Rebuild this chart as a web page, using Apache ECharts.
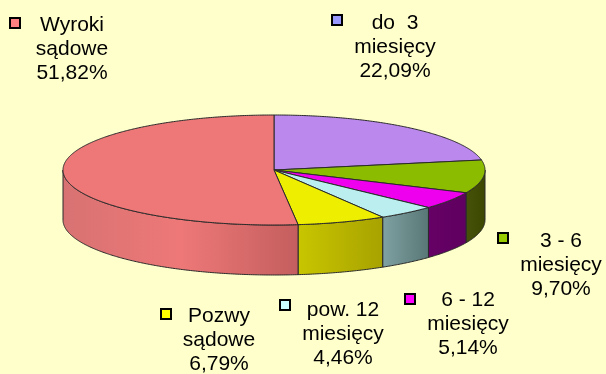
<!DOCTYPE html>
<html>
<head>
<meta charset="utf-8">
<script src="https://cdn.jsdelivr.net/npm/echarts@6/dist/echarts.min.js"></script>
<style>
  html, body { margin: 0; padding: 0; background: #FFFFCC; }
  #chart { width: 606px; height: 374px; }
</style>
</head>
<body>
<div id="chart"></div>
<script>
// Slices, in clockwise order starting from 12 o'clock
const categories = ['do  3\nmiesięcy', '3 - 6\nmiesięcy', '6 - 12\nmiesięcy', 'pow. 12\nmiesięcy', 'Pozwy\nsądowe', 'Wyroki\nsądowe'];
const shares = [22.09, 9.70, 5.14, 4.46, 6.79, 51.82];

// Styles
const topColors = ['#BB88EE', '#8CBC00', '#EE00EE', '#BBEEEE', '#EEEE00', '#EE7777'];
const wallStops = [
  ['#7A55A8', '#5E3F86'],
  ['#46520A', '#3C4600'],
  ['#660066', '#600060'],
  ['#80A2A2', '#587676'],
  ['#C8C600', '#A8A200'],
  ['#D87272', '#EE7878', '#C45E5E']
];
const keyColors = ['#9999FF', '#99CC00', '#FF00FF', '#CCFFFF', '#FFFF00', '#FF8080'];

// Layout of the elliptical pie and of the labels (x = text centre, y = top, mx/my = key square)
const pie = { cx: 274, cy: 170, rx: 211, ry: 55, depth: 50 };
const labelLayout = [
  { x: 395, y: 11, mx: 331, my: 14 },
  { x: 561, y: 229, mx: 497, my: 232 },
  { x: 468, y: 288, mx: 404, my: 293 },
  { x: 343, y: 298, mx: 279, my: 299 },
  { x: 219, y: 304, mx: 160, my: 308 },
  { x: 72, y: 13, mx: 9, my: 17 }
];

const total = shares.reduce((a, b) => a + b, 0);
let running = 0;
const seriesData = shares.map(v => { const item = [v, running, total]; running += v; return item; });

function pt(theta, dy) {
  return [pie.cx + pie.rx * Math.sin(theta), pie.cy - pie.ry * Math.cos(theta) + dy];
}
function arc(a0, a1, dy) {
  const pts = [];
  const n = Math.max(2, Math.ceil((a1 - a0) / (Math.PI / 360)));
  for (let i = 0; i <= n; i++) pts.push(pt(a0 + (a1 - a0) * i / n, dy));
  return pts;
}
function wallFill(i) {
  const stops = wallStops[i];
  return {
    type: 'linear', x: 0, y: 0, x2: 1, y2: 0,
    colorStops: stops.map((c, k) => ({ offset: stops.length === 1 ? 0 : k / (stops.length - 1), color: c }))
  };
}

const edge = { stroke: '#2A2A2A', lineWidth: 1 };

function renderSlice(params, api) {
  const i = params.dataIndex;
  const v = api.value(0), start = api.value(1), sum = api.value(2);
  const a0 = start / sum * Math.PI * 2;
  const a1 = (start + v) / sum * Math.PI * 2;
  const children = [];
  // Front wall (visible between 3 o'clock and 9 o'clock)
  const f0 = Math.max(a0, Math.PI / 2), f1 = Math.min(a1, Math.PI * 1.5);
  if (f1 > f0) {
    const upper = arc(f0, f1, 0);
    const lower = arc(f0, f1, pie.depth).reverse();
    children.push({
      type: 'polygon',
      shape: { points: upper.concat(lower) },
      style: Object.assign({ fill: wallFill(i) }, edge)
    });
  }
  // Top face
  children.push({
    type: 'polygon',
    shape: { points: [[pie.cx, pie.cy]].concat(arc(a0, a1, 0)) },
    style: Object.assign({ fill: topColors[i] }, edge)
  });
  return { type: 'group', children };
}

const fmt = v => v.toFixed(2).replace('.', ',') + '%';

const labelElements = [];
categories.forEach((name, i) => {
  const L = labelLayout[i];
  labelElements.push({
    type: 'rect',
    shape: { x: L.mx + 1, y: L.my + 1, width: 10, height: 10 },
    style: { fill: keyColors[i], stroke: '#000', lineWidth: 2 },
    z: 10
  });
  labelElements.push({
    type: 'text',
    x: L.x, y: L.y,
    style: {
      text: name + '\n' + fmt(shares[i]),
      font: '21px "Liberation Sans", Arial, sans-serif',
      fill: '#000',
      align: 'center', verticalAlign: 'top',
      textAlign: 'center', textVerticalAlign: 'top',
      lineHeight: 24
    },
    z: 10
  });
});

const chart = echarts.init(document.getElementById('chart'), null, { renderer: 'canvas' });
chart.setOption({
  backgroundColor: '#FFFFCC',
  animation: false,
  series: [{
    type: 'custom',
    coordinateSystem: 'none',
    silent: true,
    renderItem: renderSlice,
    data: seriesData
  }],
  graphic: { elements: labelElements }
});
</script>
</body>
</html>
